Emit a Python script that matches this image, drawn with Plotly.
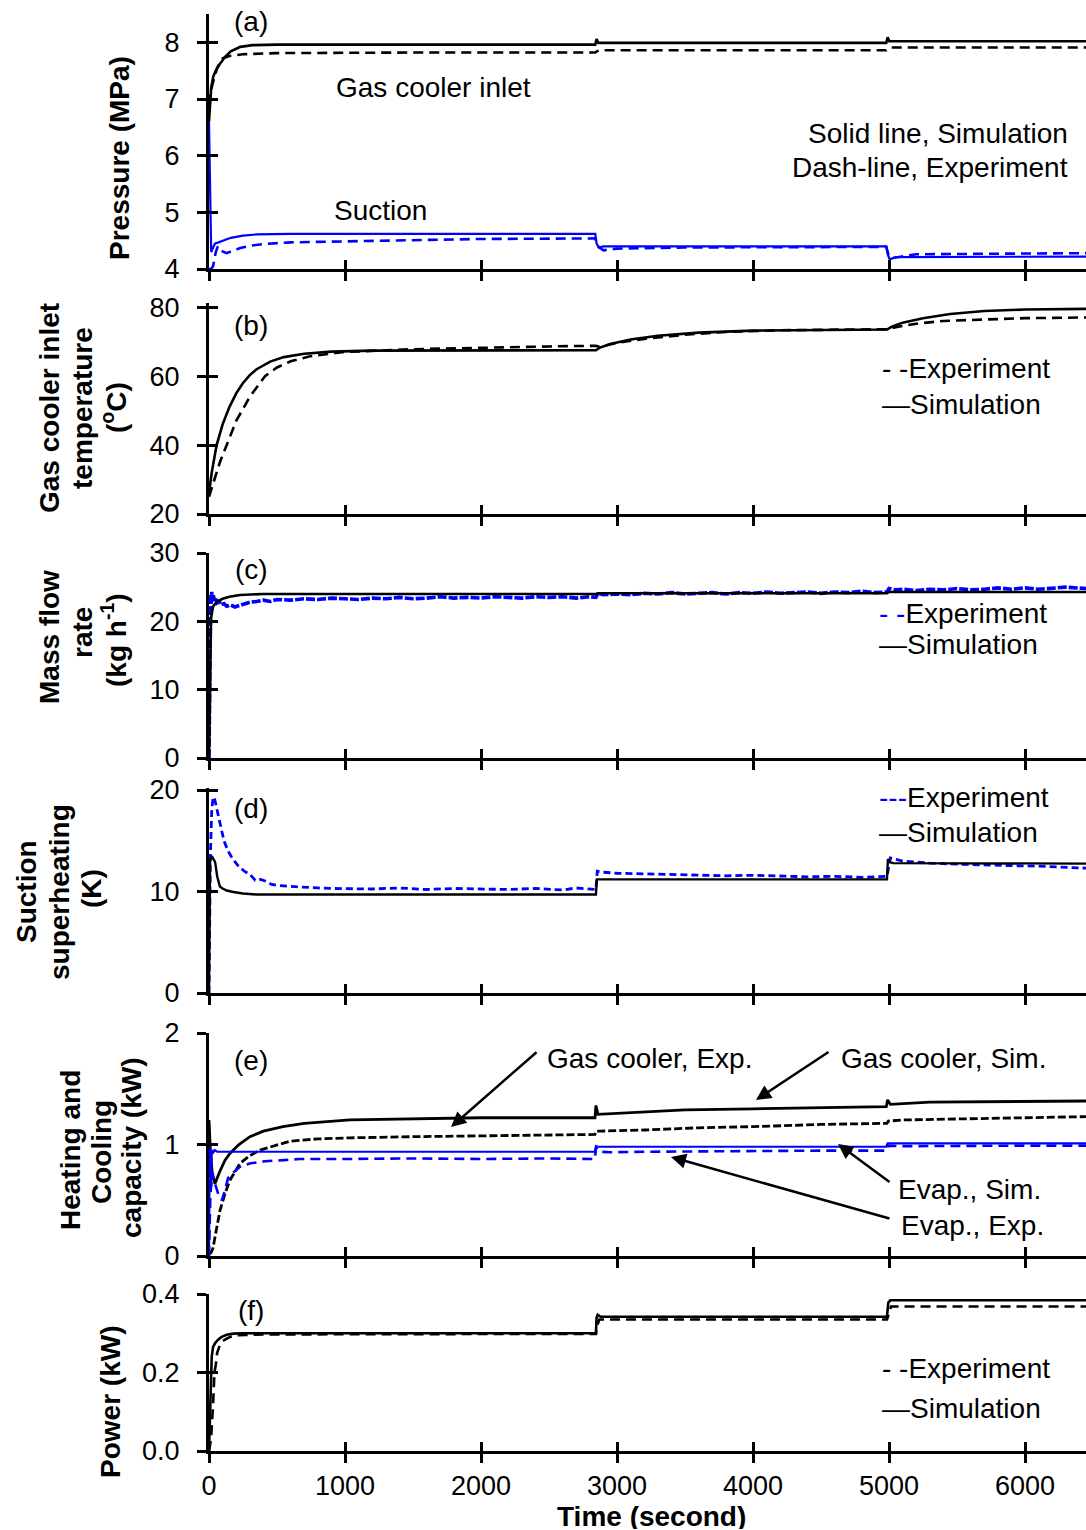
import plotly.graph_objects as go

# ---------------------------------------------------------------- data
# (a) Pressure (MPa)
a_gc_sim_t = [0, 8, 16, 32, 50, 80, 120, 160, 230, 320, 500, 1500, 2840, 2850, 2862, 2900, 4000, 4980, 4990, 5002, 5050, 6450]
a_gc_sim = [6.6, 6.95, 7.2, 7.4, 7.5, 7.62, 7.75, 7.84, 7.92, 7.95, 7.96, 7.96, 7.96, 8.06, 7.99, 7.99, 7.99, 7.99, 8.09, 8.02, 8.02, 8.02]
a_gc_exp_t = [0, 10, 30, 60, 100, 150, 250, 500, 1500, 2840, 2852, 2870, 4000, 4980, 4995, 5010, 6450]
a_gc_exp = [6.9, 7.1, 7.3, 7.55, 7.72, 7.76, 7.79, 7.81, 7.82, 7.82, 7.84, 7.86, 7.86, 7.86, 7.89, 7.91, 7.91]
a_suc_sim_t = [0, 8, 16, 30, 45, 70, 110, 160, 250, 350, 600, 2840, 2850, 2865, 2900, 4980, 4992, 5005, 5050, 6450]
a_suc_sim = [6.6, 5.2, 4.3, 4.38, 4.45, 4.47, 4.5, 4.55, 4.59, 4.61, 4.62, 4.62, 4.45, 4.38, 4.4, 4.4, 4.25, 4.17, 4.21, 4.22]
a_suc_exp_t = [0, 15, 30, 50, 65, 90, 130, 180, 230, 300, 400, 600, 1000, 1500, 2000, 2840, 2860, 2900, 3000, 3500, 4980, 5000, 5040, 5200, 6450]
a_suc_exp = [4.0, 4.0, 4.05, 4.3, 4.4, 4.32, 4.28, 4.33, 4.37, 4.41, 4.44, 4.47, 4.49, 4.51, 4.53, 4.54, 4.40, 4.33, 4.36, 4.38, 4.39, 4.22, 4.2, 4.26, 4.28]

# (b) Gas cooler inlet temperature (oC)
b_sim_t = [0, 20, 56, 100, 150, 200, 250, 300, 350, 450, 550, 700, 900, 1200, 2845, 2870, 2950, 3100, 3300, 3600, 4000, 4500, 4985, 5020, 5100, 5250, 5450, 5700, 6000, 6450]
b_sim = [26, 32, 40, 46, 51, 55, 58, 60.3, 62.0, 64.2, 65.5, 66.5, 67.1, 67.4, 67.5, 68.2, 69.3, 70.6, 71.7, 72.6, 73.2, 73.4, 73.5, 74.3, 75.5, 76.8, 78.0, 78.9, 79.3, 79.5]
b_exp_t = [0, 30, 80, 130, 200, 300, 412, 500, 600, 750, 1000, 1500, 2000, 2500, 2845, 2870, 3000, 3200, 3500, 3800, 4200, 4985, 5050, 5200, 5400, 5700, 6000, 6450]
b_exp = [25, 29, 35, 40, 47, 54, 60, 62.5, 64.3, 65.8, 67.0, 67.8, 68.3, 68.6, 68.8, 68.5, 69.6, 70.8, 72.0, 72.8, 73.3, 73.6, 74.2, 75.2, 76.0, 76.5, 76.8, 77.0]

# (c) Mass flow rate (kg/h)
c_sim_t = [0, 8, 15, 30, 45, 60, 100, 150, 228, 300, 400, 2845, 2860, 4985, 5000, 6450]
c_sim = [0, 14, 20.5, 22.2, 22.6, 22.9, 23.3, 23.6, 23.85, 23.95, 24.0, 24.0, 24.1, 24.1, 24.3, 24.3]
c_exp_t = [0, 4, 8, 12, 16, 20, 25, 30, 40, 50,
           60, 75, 90, 110, 130, 160, 190, 220, 260, 300,
           350, 400, 450, 500, 600, 700, 800, 900, 1000, 1100,
           1200, 1300, 1400, 1500, 1600, 1700, 1800, 1900, 2000, 2100,
           2200, 2300, 2400, 2500, 2600, 2700, 2800, 2845, 2860, 2900,
           3000, 3100, 3200, 3300, 3400, 3500, 3600, 3700, 3800, 3900,
           4000, 4100, 4200, 4300, 4400, 4500, 4600, 4700, 4800, 4900,
           4985, 5000, 5050, 5100, 5200, 5300, 5400, 5500, 5600, 5700,
           5800, 5900, 6000, 6100, 6200, 6300, 6450]
c_exp = [0, 10, 21, 23.8, 22.6, 24.3, 23.1, 24.0, 23.0, 23.5,
         22.7, 22.9, 22.4, 22.6, 22.2, 22.4, 22.1, 22.3, 22.6, 22.8,
         22.9, 23.1, 22.9, 23.2, 23.1, 23.3, 23.2, 23.4, 23.3, 23.2,
         23.4, 23.3, 23.5, 23.3, 23.4, 23.6, 23.4, 23.5, 23.4, 23.6,
         23.5, 23.4, 23.6, 23.5, 23.6, 23.4, 23.6, 23.5, 24.1, 23.9,
         24.0, 23.9, 24.1, 24.0, 24.2, 24.0, 24.1, 24.2, 24.0, 24.2,
         24.1, 24.3, 24.1, 24.2, 24.3, 24.1, 24.3, 24.2, 24.4, 24.2,
         24.3, 24.8, 24.6, 24.7, 24.5, 24.7, 24.6, 24.8, 24.6, 24.7,
         24.9, 24.7, 24.9, 24.7, 24.8, 25.0, 24.8]

# (d) Suction superheating (K)
d_sim_t = [0, 4, 8, 20, 45, 60, 80, 100, 130, 180, 250, 350, 500, 2845, 2852, 4985, 4992, 5005, 5030, 6450]
d_sim = [0, 9, 13.0, 13.5, 12.9, 11.5, 10.5, 10.3, 10.1, 9.95, 9.8, 9.7, 9.7, 9.7, 11.2, 11.2, 13.2, 12.9, 12.8, 12.75]
d_exp_t = [0, 5, 10, 20, 30, 40, 55, 70, 90, 110,
           140, 170, 210, 260, 300, 340, 380, 420, 460, 500,
           600, 700, 800, 900, 1000, 1200, 1400, 1600, 1800, 2000,
           2200, 2400, 2600, 2700, 2845, 2855, 2900, 3000, 3200, 3400,
           3600, 3800, 4000, 4200, 4400, 4600, 4800, 4985, 4995, 5010,
           5100, 5300, 5500, 5700, 5900, 6100, 6300, 6450]
d_exp = [0, 8, 13.5, 18, 19.3, 19.2, 18.3, 17.2, 16.0, 15.0,
         14.0, 13.3, 12.6, 12.0, 11.7, 11.1, 11.2, 11.0, 10.7, 10.6,
         10.5, 10.4, 10.35, 10.3, 10.3, 10.25, 10.35, 10.2, 10.3, 10.25,
         10.2, 10.3, 10.15, 10.35, 10.2, 12.0, 11.9, 11.8, 11.75, 11.7,
         11.6, 11.55, 11.6, 11.5, 11.45, 11.5, 11.4, 11.5, 12.3, 13.3,
         13.0, 12.8, 12.7, 12.6, 12.55, 12.5, 12.4, 12.3]

# (e) Heating and cooling capacity (kW)
e_gc_sim_t = [0, 10, 25, 44, 80, 118, 154, 220, 301, 400, 544, 700, 1037, 1500, 2000, 2838, 2845, 2860, 3000, 3500, 4000, 4500, 4980, 4990, 5010, 5300, 6450]
e_gc_sim = [1.22, 0.95, 0.72, 0.65, 0.76, 0.86, 0.92, 1.0, 1.07, 1.12, 1.16, 1.19, 1.22, 1.23, 1.24, 1.24, 1.35, 1.27, 1.28, 1.31, 1.32, 1.33, 1.34, 1.40, 1.36, 1.38, 1.39]
e_gc_exp_t = [0, 15, 29, 50, 81, 120, 154, 228, 300, 375, 480, 596, 800, 1037, 1500, 2015, 2500, 2838, 2848, 2875, 3200, 3600, 4000, 4500, 4985, 4995, 5100, 5500, 6000, 6450]
e_gc_exp = [0.02, 0.03, 0.07, 0.22, 0.41, 0.57, 0.68, 0.83, 0.90, 0.95, 0.99, 1.03, 1.05, 1.06, 1.07, 1.08, 1.085, 1.09, 1.12, 1.12, 1.13, 1.15, 1.16, 1.18, 1.19, 1.21, 1.22, 1.23, 1.245, 1.25]
e_ev_sim_t = [0, 5, 10, 15, 20, 28, 40, 60, 100, 2838, 2845, 2860, 4980, 4990, 6450]
e_ev_sim = [0.0, 0.98, 0.95, 0.62, 0.95, 0.92, 0.95, 0.935, 0.935, 0.935, 0.985, 0.98, 0.98, 1.01, 1.01]
e_ev_exp_t = [0, 10, 25, 44, 70, 95, 120, 140, 180, 228, 300, 412, 550, 670, 1000, 1500, 2000, 2500, 2838, 2845, 2870, 2950, 3200, 3600, 4000, 4500, 4985, 4995, 5100, 5500, 6000, 6450]
e_ev_exp = [0.0, 0.55, 0.75, 0.65, 0.55, 0.5, 0.6, 0.7, 0.75, 0.8, 0.83, 0.85, 0.86, 0.87, 0.87, 0.875, 0.87, 0.875, 0.87, 0.97, 0.935, 0.93, 0.935, 0.94, 0.94, 0.945, 0.945, 0.99, 0.985, 0.99, 0.99, 0.99]

# (f) Power (kW)
f_sim_t = [0, 10, 20, 30, 45, 65, 90, 130, 180, 250, 2845, 2850, 2858, 2880, 4985, 4995, 5010, 6450]
f_sim = [0, 0.15, 0.24, 0.265, 0.275, 0.283, 0.29, 0.296, 0.299, 0.30, 0.30, 0.34, 0.347, 0.342, 0.342, 0.378, 0.384, 0.384]
f_exp_t = [0, 15, 30, 40, 50, 60, 80, 100, 150, 200, 400, 1000, 2000, 2845, 2855, 2870, 3500, 4985, 5000, 5015, 6450]
f_exp = [0, 0.03, 0.12, 0.2, 0.22, 0.25, 0.27, 0.28, 0.29, 0.295, 0.297, 0.298, 0.298, 0.298, 0.32, 0.335, 0.335, 0.335, 0.35, 0.368, 0.368]

x_ticks = [0, 1000, 2000, 3000, 4000, 5000, 6000]
y_ticks = [[4, 5, 6, 7, 8], [20, 40, 60, 80], [0, 10, 20, 30], [0, 10, 20], [0, 1, 2], [0.0, 0.2, 0.4]]

# ---------------------------------------------------------------- layout geometry
W, H = 1086, 1530
L, B = 209, 79
PW, PH = W - L, H - B
X_MAX = PW / 0.136
FONT = "Liberation Sans, Arial, Helvetica, sans-serif"
BLACK = "#000000"
BLUE = "#0000ff"
TXT = 28
TICK = 27

# (top px, bottom px, y-range, tickformat)
panels = [
    (14, 269, [4, 8.5], None),
    (303, 514, [20, 81.2], None),
    (553, 758, [0, 30], None),
    (788, 993, [0, 20.2], None),
    (1033, 1256, [0, 2], None),
    (1294, 1451, [0, 0.4], ".1f"),
]


def pxx(xp):
    return (xp - L) / PW


def pxy(yp):
    return (PH - yp) / PH


fig = go.Figure()


def suffix(i):
    return "" if i == 1 else str(i)


def add_line(i, t, v, color, width, dash, name):
    s = suffix(i)
    fig.add_trace(go.Scatter(x=t, y=v, mode="lines", name=name, showlegend=False,
                             line=dict(color=color, width=width, dash=dash),
                             xaxis="x" + s, yaxis="y" + s))


DASH = "10px,6px"
# (a)
add_line(1, a_gc_exp_t, a_gc_exp, BLACK, 2.6, DASH, "Gas cooler inlet, Exp.")
add_line(1, a_gc_sim_t, a_gc_sim, BLACK, 2.6, "solid", "Gas cooler inlet, Sim.")
add_line(1, a_suc_exp_t, a_suc_exp, BLUE, 2.6, DASH, "Suction, Exp.")
add_line(1, a_suc_sim_t, a_suc_sim, BLUE, 2.2, "solid", "Suction, Sim.")
# (b)
add_line(2, b_exp_t, b_exp, BLACK, 2.6, DASH, "Experiment")
add_line(2, b_sim_t, b_sim, BLACK, 2.6, "solid", "Simulation")
# (c)
add_line(3, c_exp_t, c_exp, BLUE, 3.6, "9px,2px", "Experiment")
add_line(3, c_sim_t, c_sim, BLACK, 2.6, "solid", "Simulation")
# (d)
add_line(4, d_exp_t, d_exp, BLUE, 2.8, "7px,4px", "Experiment")
add_line(4, d_sim_t, d_sim, BLACK, 2.4, "solid", "Simulation")
# (e)
add_line(5, e_gc_exp_t, e_gc_exp, BLACK, 2.8, "8px,3px", "Gas cooler, Exp.")
add_line(5, e_gc_sim_t, e_gc_sim, BLACK, 2.8, "solid", "Gas cooler, Sim.")
add_line(5, e_ev_exp_t, e_ev_exp, BLUE, 2.6, DASH, "Evap., Exp.")
add_line(5, e_ev_sim_t, e_ev_sim, BLUE, 2.2, "solid", "Evap., Sim.")
# (f)
add_line(6, f_exp_t, f_exp, BLACK, 2.6, DASH, "Experiment")
add_line(6, f_sim_t, f_sim, BLACK, 2.6, "solid", "Simulation")

layout_axes = {}
tickfont = dict(family=FONT, size=TICK, color=BLACK)
for i, (top, bot, rng, fmt) in enumerate(panels, start=1):
    s = suffix(i)
    j = str(i + 6)
    common = dict(showgrid=False, zeroline=False, tickcolor=BLACK, tickwidth=2.5,
                  ticklen=9, automargin=False)
    layout_axes["xaxis" + s] = dict(domain=[0, 1], anchor="y" + s, range=[0, X_MAX],
                                    tickmode="array", tickvals=x_ticks,
                                    showticklabels=(i == 6), tickfont=tickfont,
                                    ticklabelstandoff=0,
                                    showline=True, linewidth=3, linecolor=BLACK,
                                    ticks="outside", **common)
    layout_axes["yaxis" + s] = dict(domain=[pxy(bot), pxy(top)], anchor="x" + s, range=rng,
                                    tickmode="array", tickvals=y_ticks[i - 1],
                                    tickformat=fmt if fmt else "",
                                    tickfont=tickfont, ticklabelstandoff=12,
                                    showline=True, linewidth=3, linecolor=BLACK,
                                    ticks="outside", **common)
    # overlay axes carrying the inner half of the crossing ticks
    layout_axes["xaxis" + j] = dict(overlaying="x" + s, anchor="y" + s, side="bottom",
                                    range=[0, X_MAX], tickmode="array", tickvals=x_ticks,
                                    showticklabels=False, showline=False, ticks="inside", **common)
    layout_axes["yaxis" + j] = dict(overlaying="y" + s, anchor="x" + s, side="left",
                                    range=rng, tickmode="array", tickvals=y_ticks[i - 1],
                                    showticklabels=False, showline=False, ticks="inside", **common)
    fig.add_trace(go.Scatter(x=[0], y=[rng[0]], mode="markers", marker=dict(opacity=0),
                             hoverinfo="skip", showlegend=False, xaxis="x" + j, yaxis="y" + s))
    fig.add_trace(go.Scatter(x=[0], y=[rng[0]], mode="markers", marker=dict(opacity=0),
                             hoverinfo="skip", showlegend=False, xaxis="x" + s, yaxis="y" + j))


def ann(text, xp, yp, xanchor="center", size=TXT, angle=0, yanchor="middle", height=None):
    d = dict(text=text, x=pxx(xp), y=pxy(yp), xref="paper", yref="paper",
             xanchor=xanchor, yanchor=yanchor, showarrow=False, textangle=angle,
             align="left" if xanchor == "left" else "center",
             font=dict(family=FONT, size=size, color=BLACK))
    if height is not None:
        d["height"] = height
        d["valign"] = "middle"
    return d


annotations = []
# panel letters
for letter, yp in zip("abcdef", [22, 325, 569, 808, 1060, 1310]):
    annotations.append(ann("(" + letter + ")", 251, yp))

# rotated y titles (one annotation per line)
titles = [
    ("Pressure (MPa)", 120, 158),
    ("Gas cooler inlet", 49, 408), ("temperature", 82, 408), ("(<sup>o</sup>C)", 114, 408),
    ("Mass flow", 49, 637), ("rate", 82, 633), ("(kg h<sup>-1</sup>)", 114, 640),
    ("Suction", 27, 892), ("superheating", 60, 892), ("(K)", 91, 888),
    ("Heating and", 70, 1150), ("Cooling", 101, 1152), ("capacity (kW)", 131, 1148),
    ("Power (kW)", 110, 1402),
]
for text, xp, yp in titles:
    annotations.append(ann("<b>" + text + "</b>", xp, yp, size=TXT, angle=-90))

# x title
annotations.append(ann("<b>Time (second)</b>", 651, 1516, size=TXT, height=26))

# panel (a) labels
annotations.append(ann("Gas cooler inlet", 334, 88, xanchor="left"))
annotations.append(ann("Suction", 332, 210, xanchor="left"))
annotations.append(ann("Solid line, Simulation", 1070, 134, xanchor="right"))
annotations.append(ann("Dash-line, Experiment", 1070, 168, xanchor="right"))

# legend-like texts
blue_dash = '<span style="color:#0000ff">- -</span>'
blue_dash3 = '<span style="color:#0000ff">---</span>'
annotations.append(ann("- -Experiment<br>\u2014Simulation", 880, 387, xanchor="left"))
legend_rows = [
    (blue_dash + "Experiment", 877, 613), ("\u2014Simulation", 877, 644),
    (blue_dash3 + "Experiment", 877, 798), ("\u2014Simulation", 877, 832),
    ("- -Experiment", 880, 1368), ("\u2014Simulation", 880, 1408),
]
for text, xp, yp in legend_rows:
    annotations.append(ann(text, xp, yp, xanchor="left"))

# panel (e) labels and arrows
annotations.append(ann("Gas cooler, Exp.", 545, 1058, xanchor="left"))
annotations.append(ann("Gas cooler, Sim.", 839, 1058, xanchor="left"))
annotations.append(ann("Evap., Sim.", 896, 1189, xanchor="left"))
annotations.append(ann("Evap., Exp.", 899, 1225, xanchor="left"))

E_TOP, E_BOT = 1033, 1256


def t_of(xp):
    return (xp - L) / 0.136


def e_of(yp):
    return (E_BOT - yp) / (E_BOT - E_TOP) * 2


arrows = [((538, 1051), (451, 1127)), ((830, 1051), (756, 1100)),
          ((891, 1183), (838, 1144)), ((891, 1219), (671, 1157))]
for (tx, ty), (hx, hy) in arrows:
    annotations.append(dict(text="", x=t_of(hx), y=e_of(hy), ax=t_of(tx), ay=e_of(ty),
                            xref="x5", yref="y5", axref="x5", ayref="y5", showarrow=True,
                            arrowhead=2, arrowsize=1.2, arrowwidth=2.5, arrowcolor=BLACK))

fig.update_layout(
    width=W, height=H,
    margin=dict(l=L, r=0, t=0, b=B, pad=0, autoexpand=False),
    paper_bgcolor="white", plot_bgcolor="white",
    showlegend=False,
    font=dict(family=FONT, size=TXT, color=BLACK),
    annotations=annotations,
    **layout_axes,
)

fig.write_html("out.html")
